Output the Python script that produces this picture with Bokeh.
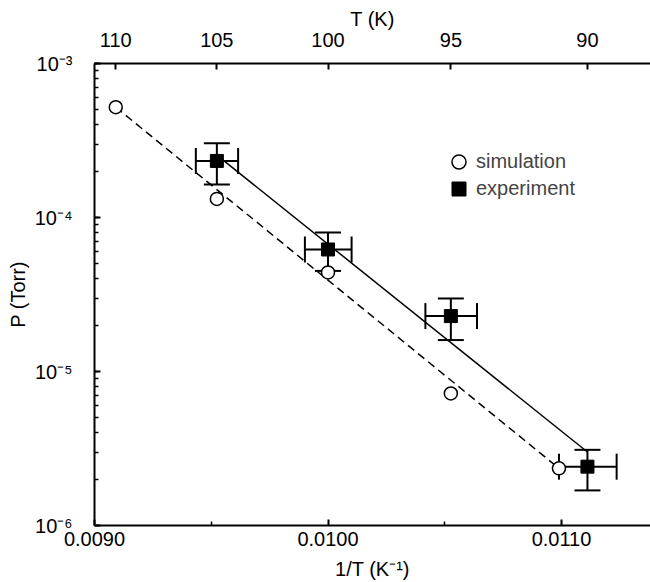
from bokeh.plotting import figure
from bokeh.models import (Range1d, LinearAxis, FixedTicker, CustomJSTickFormatter,
                          Whisker, TeeHead, ColumnDataSource, Legend, LegendItem, LogTicker)
from bokeh.embed import file_html
from bokeh.resources import INLINE

# ---- data ----
sim_invT = [0.009091, 0.009524, 0.010000, 0.010526, 0.010989]
sim_P = [5.2e-4, 1.32e-4, 4.4e-5, 7.2e-6, 2.35e-6]

exp_invT = [0.009524, 0.010000, 0.010526, 0.011111]
exp_P = [2.33e-4, 6.2e-5, 2.29e-5, 2.41e-6]
exp_P_hi = [3.03e-4, 8.0e-5, 2.98e-5, 3.10e-6]
exp_P_lo = [1.64e-4, 4.5e-5, 1.60e-5, 1.69e-6]
exp_invT_lo = [0.009434, 0.009901, 0.010417, 0.010989]
exp_invT_hi = [0.009615, 0.010101, 0.010638, 0.011236]

sim_line_invT = [0.009091, 0.010989]
sim_line_P = [5.2e-4, 2.35e-6]
exp_line_invT = [0.009524, 0.011111]
exp_line_P = [2.54e-4, 3.0e-6]

bottom_ticks = [0.0090, 0.0100, 0.0110]
bottom_minor = [0.0095, 0.0105]
top_T = [110, 105, 100, 95, 90]

FONT = "Liberation Sans"
FS = "20px"

p = figure(width=650, height=582, y_axis_type="log",
           x_range=Range1d(0.0090, 0.011381), y_range=Range1d(1e-6, 1e-3),
           output_backend="svg", toolbar_location=None,
           min_border_left=94, min_border_right=0, min_border_top=63, min_border_bottom=55)
p.outline_line_color = None
p.grid.visible = False
p.background_fill_color = "white"
p.border_fill_color = "white"

# bottom axis
xa = p.xaxis[0]
xa.ticker = FixedTicker(ticks=bottom_ticks, minor_ticks=bottom_minor)
xa.formatter = CustomJSTickFormatter(code="return tick.toFixed(4);")
xa.axis_label = "1/T (K\u207b\u00b9)"

# left axis
ya = p.yaxis[0]
ya.ticker = LogTicker(num_minor_ticks=10)
ya.formatter = CustomJSTickFormatter(code="""
const e = Math.round(Math.log10(tick));
const m = {"-":"\u207b","0":"\u2070","1":"\u00b9","2":"\u00b2","3":"\u00b3","4":"\u2074","5":"\u2075","6":"\u2076","7":"\u2077","8":"\u2078","9":"\u2079"};
return "10" + String(e).split("").map(c => m[c]).join("");
""")
ya.axis_label = "P (Torr)"

# top axis
ta = LinearAxis(ticker=FixedTicker(ticks=[1.0 / t for t in top_T], minor_ticks=[]),
                formatter=CustomJSTickFormatter(code="return Math.round(1/tick).toString();"),
                axis_label="T (K)")
p.add_layout(ta, "above")

for ax in [xa, ya, ta]:
    ax.axis_line_width = 2
    ax.axis_line_color = "black"
    ax.major_tick_line_width = 2
    ax.minor_tick_line_width = 1.5
    ax.major_tick_in = 6
    ax.major_tick_out = 0
    ax.minor_tick_in = 4
    ax.minor_tick_out = 0
    ax.major_label_text_font = FONT
    ax.major_label_text_font_size = FS
    ax.major_label_text_color = "black"
    ax.major_label_text_line_height = 1.0
    ax.axis_label_text_font = FONT
    ax.axis_label_text_font_size = FS
    ax.axis_label_text_font_style = "normal"
    ax.axis_label_text_color = "black"
    ax.axis_label_text_line_height = 1.0

xa.major_label_standoff = 6
xa.axis_label_standoff = 9
ta.major_label_standoff = 17
ta.axis_label_standoff = 0
ya.major_label_standoff = 22
ya.axis_label_standoff = 3

# lines
p.line(sim_line_invT, sim_line_P, line_color="black", line_width=1.5, line_dash="8 5")
p.line(exp_line_invT, exp_line_P, line_color="black", line_width=1.5)

# error bars
src = ColumnDataSource(dict(x=exp_invT, y=exp_P, ylo=exp_P_lo, yhi=exp_P_hi,
                            xlo=exp_invT_lo, xhi=exp_invT_hi))
wy = Whisker(source=src, base="x", lower="ylo", upper="yhi", dimension="height",
             line_color="black", line_width=2,
             upper_head=TeeHead(size=26, line_width=2, line_color="black"),
             lower_head=TeeHead(size=26, line_width=2, line_color="black"))
wx = Whisker(source=src, base="y", lower="xlo", upper="xhi", dimension="width",
             line_color="black", line_width=2,
             upper_head=TeeHead(size=26, line_width=2, line_color="black"),
             lower_head=TeeHead(size=26, line_width=2, line_color="black"))
p.add_layout(wy)
p.add_layout(wx)

r_sim = p.scatter(sim_invT, sim_P, marker="circle", size=13, fill_color="white",
                  line_color="black", line_width=1.5)
r_exp = p.scatter(exp_invT, exp_P, marker="square", size=13, fill_color="black",
                  line_color="black")

common = dict(glyph_width=35, glyph_height=35, label_height=25, spacing=0,
              label_standoff=0, padding=0, margin=0, border_line_color=None,
              background_fill_alpha=0, label_text_font=FONT, label_text_font_size=FS)
leg1 = Legend(items=[LegendItem(label="simulation", renderers=[r_sim])],
              location=(347, 346), **common)
leg2 = Legend(items=[LegendItem(label="experiment", renderers=[r_exp])],
              location=(347, 319), **common)
p.add_layout(leg1, "center")
p.add_layout(leg2, "center")

open("out.html", "w").write(file_html(p, INLINE))
